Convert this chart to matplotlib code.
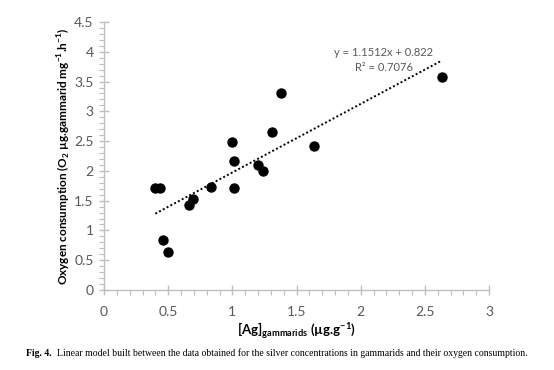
import numpy as np
import matplotlib.pyplot as plt
from matplotlib.ticker import MultipleLocator

# silver in gammarids (ug/g) vs oxygen consumption
ag = [0.40, 0.44, 0.46, 0.50, 0.66, 0.69, 0.83, 1.00, 1.01, 1.01, 1.20, 1.24, 1.31, 1.38, 1.64, 2.63]
o2 = [1.71, 1.71, 0.84, 0.64, 1.43, 1.53, 1.73, 2.48, 2.17, 1.72, 2.10, 1.99, 2.66, 3.30, 2.42, 3.58]
slope = 1.1512
intercept = 0.822
r2 = 0.7076

axis_col = '#bfbfbf'
text_col = '#595959'
plt.rcParams['font.family'] = ['Lato', 'DejaVu Sans']
plt.rcParams['mathtext.fontset'] = 'custom'
plt.rcParams['mathtext.rm'] = 'Lato'
plt.rcParams['mathtext.bf'] = 'Lato:bold'

fig = plt.figure(figsize=(5.54, 3.70), dpi=100)
ax = fig.add_axes([104/554, 1 - 290/370, 385/554, 268/370])

ax.scatter(ag, o2, s=42, color='black', zorder=3)

# trendline over data range
xf = np.array([min(ag), max(ag)])
ax.plot(xf, slope*xf + intercept, color='black', linestyle=(0, (1, 1.2)), linewidth=1.4)

ax.text(2.18, 3.98, 'y = %.4fx + %.3f' % (slope, intercept),
        ha='center', va='center', fontsize=8, color=text_col)
ax.text(2.18, 3.73, 'R² = %.4f' % r2,
        ha='center', va='center', fontsize=8, color=text_col)

ax.set_xlim(0, 3)
ax.set_ylim(0, 4.5)
ax.xaxis.set_minor_locator(MultipleLocator(0.1))
ax.yaxis.set_minor_locator(MultipleLocator(0.1))
ax.set_xticks(np.arange(0, 3.01, 0.5))
ax.set_xticklabels(['0', '0.5', '1', '1.5', '2', '2.5', '3'])
ax.set_yticks(np.arange(0, 4.51, 0.5))
ax.set_yticklabels(['0', '0.5', '1', '1.5', '2', '2.5', '3', '3.5', '4', '4.5'])

for s in ['top', 'right']:
    ax.spines[s].set_visible(False)
for s in ['left', 'bottom']:
    ax.spines[s].set_color(axis_col)
    ax.spines[s].set_linewidth(1.0)
ax.tick_params(which='major', direction='inout', length=7, width=1.0, color=axis_col,
               labelsize=10, labelcolor=text_col)
ax.tick_params(which='minor', direction='out', length=3.5, width=0.8, color=axis_col)
ax.tick_params(axis='x', which='major', pad=8)
ax.tick_params(axis='y', which='major', pad=4)

ax.set_ylabel(r'Oxygen consumption (O$_\mathbf{2}$ µg.gammarid mg$^\mathbf{-1}$.h$^\mathbf{-1}$)',
              fontsize=8.5, fontweight='bold', labelpad=1)
ax.set_xlabel(r'[Ag]$_\mathregular{gammarids}$ (µg.g$^\mathbf{-1}$)',
              fontsize=9.5, fontweight='bold', labelpad=2)

# caption
cap_font = ['Liberation Serif', 'DejaVu Serif']
t1 = fig.text(26/554, 1 - 353/370, 'Fig. 4.', fontsize=7.0, fontweight='bold',
              family=cap_font, va='center')
ax.annotate('  Linear model built between the data obtained for the silver concentrations in gammarids and their oxygen consumption.',
            xy=(1, 0.5), xycoords=t1, va='center', fontsize=7.0, family=cap_font,
            annotation_clip=False)

fig.savefig('out.png', dpi=100)
